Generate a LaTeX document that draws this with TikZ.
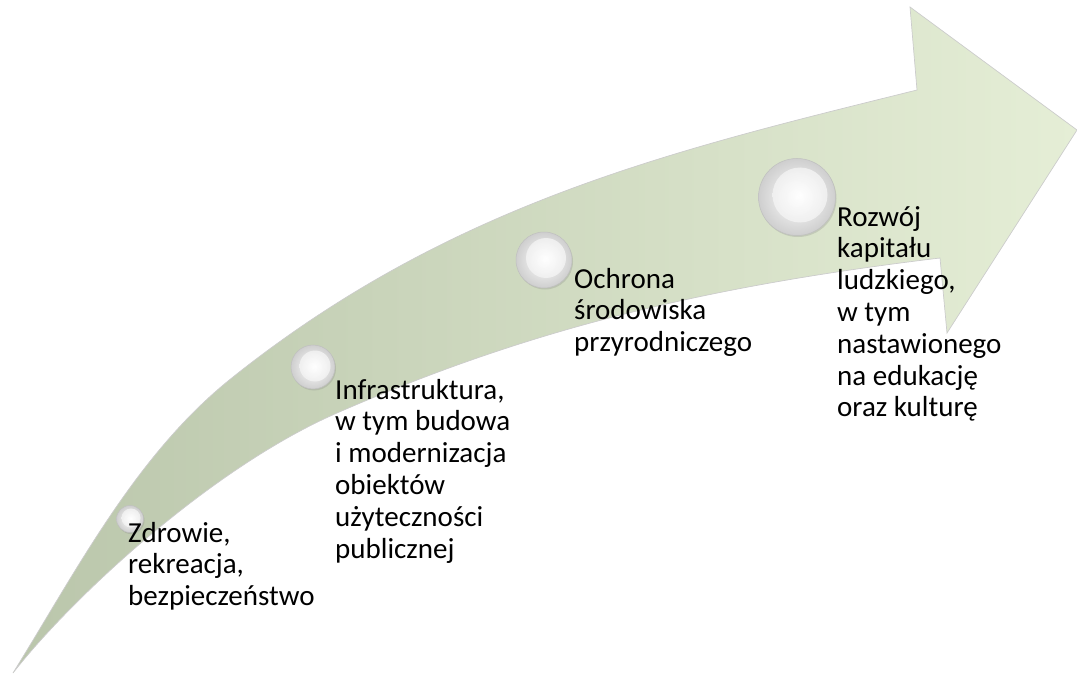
\documentclass[tikz,border=0pt]{standalone}
\usepackage{fontspec}
\setmainfont{Carlito}
\usetikzlibrary{shadows}
\definecolor{tailgreen}{RGB}{186,198,171}
\definecolor{headgreen}{RGB}{229,238,214}

\begin{document}
\begin{tikzpicture}[x=1pt,y=-1pt,
            bead/.style={circle,inner sep=0pt,draw=gray!50,line width=0.5pt,
                         inner color=white,outer color=gray!38,
                         drop shadow={shadow xshift=1pt,shadow yshift=-1.5pt,opacity=0.25}},
            shine/.style={circle,inner sep=0pt,inner color=white,outer color=white!90!gray,opacity=0.85},
            goal/.style={anchor=base west,inner sep=0pt,align=left,
                         font=\fontsize{29}{31.8}\selectfont}]
            \useasboundingbox (0,0) rectangle (1077,674);
            % the arrow
            \path[left color=tailgreen,right color=headgreen,draw=gray!40,line width=0.7pt]
                (13,673) .. controls (78,568) and (137,453) .. (233,377)
                         .. controls (453,202) and (675,150) .. (917,90)
                -- (910,7) -- (1077,130) -- (947,333) -- (940,258)
                         .. controls (700,287) and (527,330) .. (337,413)
                         .. controls (209,469) and (70,600) .. (13,673)
                -- cycle;
            % the beads
            \node[bead,minimum size=27pt] (b_1) at (130,519) {};
            \node[bead,minimum size=44pt] (b_2) at (313,367) {};
            \node[bead,minimum size=56pt] (b_3) at (544,260) {};
            \node[bead,minimum size=77pt] (b_4) at (797,197) {};
            \node[shine,minimum size=19pt] at ([xshift=1pt,yshift=1pt]b_1) {};
            \node[shine,minimum size=31pt] at ([xshift=2pt,yshift=1pt]b_2) {};
            \node[shine,minimum size=40pt] at ([xshift=2pt,yshift=2pt]b_3) {};
            \node[shine,minimum size=55pt] at ([xshift=3pt,yshift=2pt]b_4) {};
            % the texts (base = last line)
            \node[goal] (t_1) at (128,605.6) {Zdrowie,\\rekreacja,\\bezpieczeństwo};
            \node[goal] (t_2) at (335,558) {Infrastruktura,\\w tym budowa\\i modernizacja\\obiektów\\użyteczności\\publicznej};
            \node[goal] (t_3) at (574,351.6) {Ochrona\\środowiska\\przyrodniczego};
            \node[goal] (t_4) at (837,416.8) {Rozwój\\kapitału\\ludzkiego,\\w tym\\nastawionego\\na edukację\\oraz kulturę};
\end{tikzpicture}
\end{document}
